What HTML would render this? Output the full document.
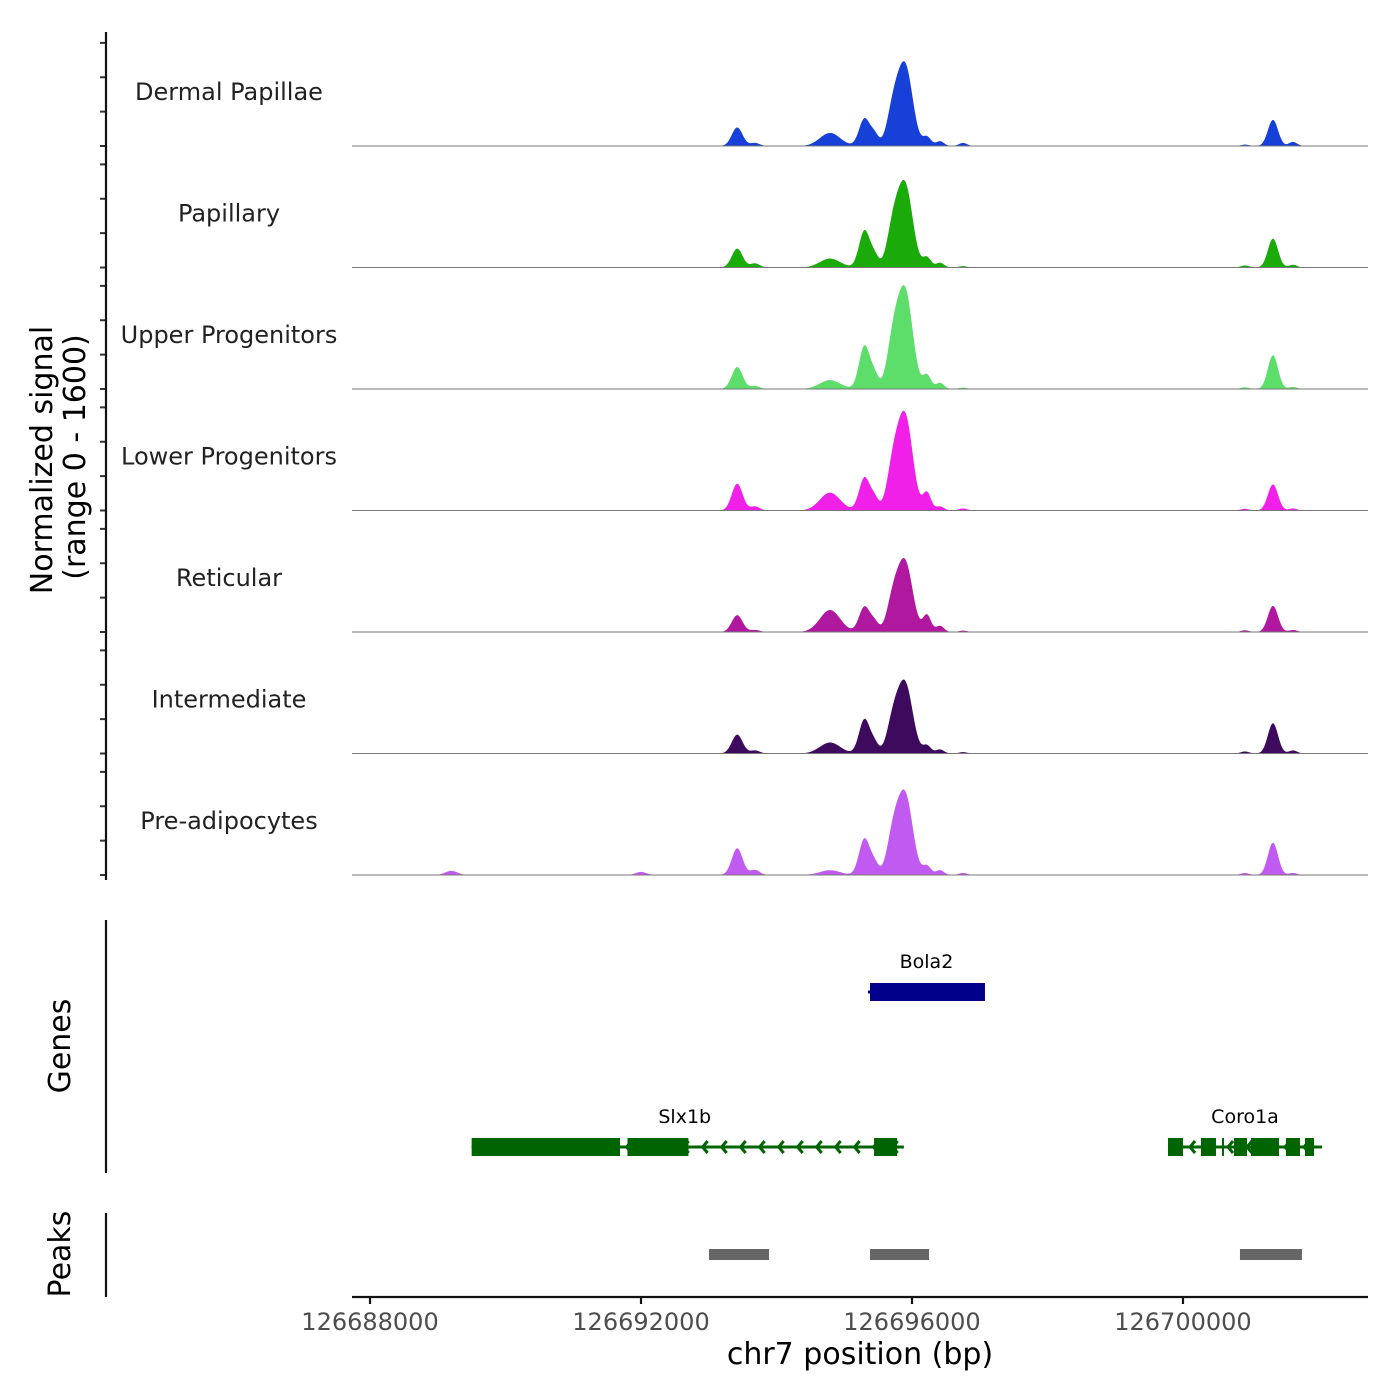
<!DOCTYPE html>
<html><head><meta charset="utf-8">
<style>
html,body{margin:0;padding:0;background:#fff;}
svg{display:block;font-family:"DejaVu Sans","Liberation Sans",sans-serif;}
</style></head>
<body>
<svg id="chart" width="1400" height="1400" viewBox="0 0 1400 1400" xmlns="http://www.w3.org/2000/svg">
<g id="tracks"></g>
<g id="genes"></g>
<g id="peaks"></g>
<g id="axes"></g>
</svg>
<script>
// ---- data ----
const cellTypes = ["Dermal Papillae","Papillary","Upper Progenitors","Lower Progenitors","Reticular","Intermediate","Pre-adipocytes"];
const trackColors = ["#1740d8","#1aab0a","#5ddd6a","#f020e8","#b0189f","#3d0a5e","#c05af0"];
// peak centers (bp) and widths (bp)
const peakCenters = [126689200,126692000,126693420,126693683,126694790,126695300,126695450,126695720,126695900,126696221,126696413,126696753,126700915,126701328,126701624];
const peakWidths  = [90,80,80,70,150,80,60,90,110,60,60,60,60,75,60];
// signal heights (0-1600 scale) per cell type for each peak
const sigDP  = [0,0,270,45,190,400,150,500,1150,130,70,45,20,380,60];
const sigPap = [0,0,275,60,130,540,150,550,1180,145,70,20,30,420,40];
const sigUp  = [0,0,320,45,130,630,180,650,1400,200,90,20,25,490,30];
const sigLow = [0,0,390,60,260,480,160,600,1350,260,60,30,25,380,30];
const sigRet = [0,0,245,30,320,370,130,450,1000,245,90,20,25,380,30];
const sigInt = [0,0,275,45,160,500,130,450,1000,115,60,20,30,440,45];
const sigPre = [60,45,390,75,70,530,150,550,1150,130,70,30,30,470,30];
const signals = [sigDP,sigPap,sigUp,sigLow,sigRet,sigInt,sigPre];
const xTicks = [126688000,126692000,126696000,126700000];
const yTicks = [0,500,1000,1500];
const peakStarts = [126693004,126695380,126700841];
const peakEnds   = [126693889,126696251,126701756];
const geneNames = ["Bola2","Slx1b","Coro1a"];
const geneStarts = [126695350,126689500,126699779];
const geneEnds   = [126697077,126695880,126702052];
const geneRows = [0,1,1];
const geneColors = ["#00008b","#006400","#006400"];
const exonStarts = [[126695380],[126689500,126691800,126695440],[126699779,126700266,126700576,126700753,126701004,126701520,126701801]];
const exonEnds   = [[126697077],[126691690,126692700,126695780],[126700000,126700487,126700605,126700945,126701417,126701727,126701934]];

// ---- scales ----
const X0=352,X1=1368, BP0=126687734, BP1=126702731;
const xs = bp => X0 + (bp-BP0)/(BP1-BP0)*(X1-X0);
const baselines = [146,267.5,389,510.5,632,753.5,875];
const ys = (v,i) => baselines[i] - v*(110/1600);
const NS="http://www.w3.org/2000/svg";
function mk(tag,attrs,parent){const e=document.createElementNS(NS,tag);for(const k in attrs)e.setAttribute(k,attrs[k]);parent.appendChild(e);return e;}

const tracks=document.getElementById('tracks');
signals.forEach((sig,i)=>{
  let d=`M${X0},${baselines[i]}`;
  for(let px=X0;px<=X1;px+=1){
    const bp=BP0+(px-X0)/(X1-X0)*(BP1-BP0);
    let v=0;
    for(let k=0;k<peakCenters.length;k++){const z=(bp-peakCenters[k])/peakWidths[k];v+=sig[k]*Math.exp(-0.5*z*z);}
    d+=`L${px},${ys(v,i).toFixed(2)}`;
  }
  d+=`L${X1},${baselines[i]}Z`;
  const p=mk('path',{d,fill:trackColors[i],stroke:'none'},tracks);
  
  
  const l=mk('line',{x1:X0,x2:X1,y1:baselines[i],y2:baselines[i],stroke:'#777','stroke-width':1},tracks);
  
  
  const t=mk('text',{x:229,y:baselines[i]-46,'text-anchor':'middle','font-size':24,fill:'#222'},tracks);
  t.textContent=cellTypes[i];
  
  
  yTicks.forEach(v=>{
    const tk=mk('line',{x1:100,x2:106,y1:ys(v,i),y2:ys(v,i),stroke:'#333','stroke-width':2},tracks);
    
    
  });
});

// genes
const genes=document.getElementById('genes');
const rowY=[992,1147];
geneNames.forEach((g,i)=>{
  const y=rowY[geneRows[i]], c=geneColors[i];
  const grp=mk('g',{},genes);
  
  
  mk('line',{x1:xs(geneStarts[i]),x2:xs(geneEnds[i]),y1:y,y2:y,stroke:c,'stroke-width':3},grp);
  for(let a=xs(geneStarts[i])+3;a<xs(geneEnds[i])-3;a+=19){
    mk('path',{d:`M${a+5},${y-6}L${a},${y}L${a+5},${y+6}`,stroke:c,'stroke-width':3,fill:'none'},grp);
  }
  exonStarts[i].forEach((s,k)=>{
    mk('rect',{x:xs(s),y:y-9,width:xs(exonEnds[i][k])-xs(s),height:18,fill:c},grp);
  });
  const t=mk('text',{x:(xs(geneStarts[i])+xs(geneEnds[i]))/2-(i==1?3:0),y:y-24,'text-anchor':'middle','font-size':19,fill:'#000'},grp);
  t.textContent=g;
  
  
});

// peaks
const peaks=document.getElementById('peaks');
peakStarts.forEach((s,i)=>{
  const r=mk('rect',{x:xs(s),y:1249,width:xs(peakEnds[i])-xs(s),height:11,fill:'#666'},peaks);
  
  
});

// axes
const ax=document.getElementById('axes');
function ln(a,name){const l=mk('line',Object.assign({stroke:'#111','stroke-width':2.2},a),ax);}
ln({x1:106,x2:106,y1:32,y2:880},'y-axis-line');
ln({x1:106,x2:106,y1:920,y2:1173},'genes-axis-line');
ln({x1:106,x2:106,y1:1213,y2:1297},'peaks-axis-line');
ln({x1:352,x2:1368,y1:1297,y2:1297},'x-axis-line');
xTicks.forEach(v=>{
  ln({x1:xs(v),x2:xs(v),y1:1297,y2:1304},'x-tick');
  const t=mk('text',{x:xs(v),y:1330,'text-anchor':'middle','font-size':24,fill:'#4d4d4d'},ax);
  t.textContent=String(v);
  
  
});
function txt(s,attrs,name){const t=mk('text',attrs,ax);t.textContent=s;}
txt('chr7 position (bp)',{x:860,y:1364,'text-anchor':'middle','font-size':30,fill:'#000'},'x-axis-title');
txt('Normalized signal',{x:0,y:0,'text-anchor':'middle','font-size':30,fill:'#000',transform:'translate(52,460) rotate(-90)'},'y-axis-title');
txt('(range 0 - 1600)',{x:0,y:0,'text-anchor':'middle','font-size':30,fill:'#000',transform:'translate(85,457) rotate(-90)'},'y-axis-subtitle');
txt('Genes',{x:0,y:0,'text-anchor':'middle','font-size':30,fill:'#000',transform:'translate(70,1046) rotate(-90)'},'genes-axis-title');
txt('Peaks',{x:0,y:0,'text-anchor':'middle','font-size':30,fill:'#000',transform:'translate(70,1254) rotate(-90)'},'peaks-axis-title');
</script>
</body></html>
